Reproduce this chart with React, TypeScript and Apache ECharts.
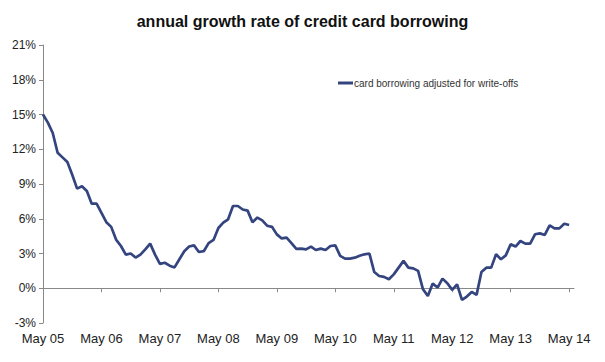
import React, { useEffect, useRef } from "react";
import * as echarts from "echarts";

const startYear = 2005;
const monthsCount = 109;
const growthRate: number[] = [
  15.0, 14.3, 13.4, 11.7, 11.3, 10.9, 9.8, 8.6, 8.8, 8.4,
  7.3, 7.3, 6.5, 5.7, 5.3, 4.2, 3.65, 2.9, 3.0, 2.65,
  2.9, 3.35, 3.85, 2.9, 2.1, 2.2, 1.95, 1.8, 2.5, 3.2,
  3.6, 3.7, 3.13, 3.2, 3.9, 4.17, 5.2, 5.66, 5.95, 7.1,
  7.1, 6.8, 6.7, 5.7, 6.1, 5.86, 5.4, 5.3, 4.65, 4.3,
  4.37, 3.9, 3.4, 3.42, 3.36, 3.6, 3.3, 3.42, 3.3, 3.65,
  3.7, 2.8, 2.56, 2.56, 2.64, 2.8, 2.93, 3.0, 1.4, 1.06,
  0.98, 0.78, 1.2, 1.78, 2.36, 1.78, 1.72, 1.5, -0.09, -0.66,
  0.4, 0.06, 0.83, 0.43, -0.14, 0.34, -1.0, -0.72, -0.32, -0.57,
  1.4, 1.78, 1.78, 2.93, 2.5, 2.84, 3.8, 3.6, 4.08, 3.85,
  3.85, 4.66, 4.74, 4.6, 5.43, 5.17, 5.17, 5.57, 5.46,
];
const yTicks = { min: -3, max: 21, interval: 3 };
const seriesName = "card borrowing adjusted for write-offs";
const titleText = "annual growth rate of credit card borrowing";

const monthNames = ["May", "Jun", "Jul", "Aug", "Sep", "Oct", "Nov", "Dec", "Jan", "Feb", "Mar", "Apr"];
// categories: one per month from May 05, plus one trailing empty month slot
const categories: string[] = [];
for (let i = 0; i < monthsCount + 1; i++) {
  const yr = startYear + Math.floor((i + 4) / 12);
  categories.push(`${monthNames[i % 12]} ${String(yr % 100).padStart(2, "0")}`);
}
const seriesData: (number | null)[] = [...growthRate, null];

const FONT = "'Liberation Sans', Arial, sans-serif";

export default function App() {
  const ref = useRef<HTMLDivElement>(null);
  useEffect(() => {
    if (!ref.current) return;
    const chart = echarts.init(ref.current, undefined, { renderer: "svg" });
    chart.setOption({
      animation: false,
      backgroundColor: "#ffffff",
      title: {
        text: titleText,
        left: "center",
        top: 8,
        textStyle: { fontFamily: FONT, fontSize: 16, fontWeight: "bold", color: "#111" },
      },
      legend: {
        data: [seriesName],
        left: 333,
        top: 73,
        icon: "rect",
        itemWidth: 15,
        itemHeight: 3,
        textStyle: { fontFamily: FONT, fontSize: 10, color: "#333", padding: [0, 0, 0, -4] },
      },
      grid: { left: 43, right: 31, top: 45, bottom: 39 },
      xAxis: [
        {
          type: "category",
          data: categories,
          boundaryGap: false,
          axisLine: { onZero: true, lineStyle: { color: "#888", width: 1 } },
          axisTick: { show: true, interval: 11, length: 4, inside: false, lineStyle: { color: "#888" } },
          axisLabel: { show: false },
          splitLine: { show: false },
        },
        {
          type: "category",
          data: categories,
          boundaryGap: false,
          position: "bottom",
          axisLine: { show: false, onZero: false },
          axisTick: { show: false },
          axisLabel: {
            show: true,
            interval: 11,
            margin: 9,
            fontFamily: FONT,
            fontSize: 13,
            color: "#222",
          },
          splitLine: { show: false },
        },
      ],
      yAxis: {
        type: "value",
        min: yTicks.min,
        max: yTicks.max,
        interval: yTicks.interval,
        axisLine: { show: true, lineStyle: { color: "#888", width: 1 } },
        axisTick: { show: true, length: 4, lineStyle: { color: "#888" } },
        axisLabel: {
          formatter: "{value}%",
          fontFamily: FONT,
          fontSize: 12,
          color: "#222",
          margin: 7,
        },
        splitLine: { show: false },
      },
      series: [
        {
          name: seriesName,
          type: "line",
          xAxisIndex: 0,
          data: seriesData,
          showSymbol: false,
          symbol: "none",
          lineStyle: { color: "#34447f", width: 2.7 },
          itemStyle: { color: "#34447f" },
        },
      ],
    });
    return () => chart.dispose();
  }, []);
  return (
    <div
      ref={ref}
      style={{ position: "fixed", left: 0, top: 0, width: 605, height: 362 }}
    />
  );
}
